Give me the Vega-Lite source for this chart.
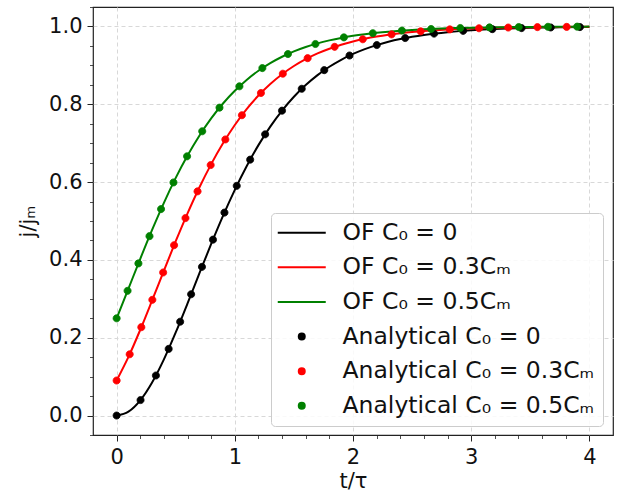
{
  "$schema": "https://vega.github.io/schema/vega-lite/v6.json",
  "width": 520,
  "height": 428,
  "autosize": {"type": "none"},
  "padding": {"left": 93, "top": 7, "right": 6, "bottom": 63},
  "background": "white",
  "config": {
    "font": "DejaVu Sans",
    "view": {"stroke": "#222222", "strokeWidth": 1.2},
    "axis": {"domain": false, "tickColor": "#222222", "labelColor": "#111111", "titleColor": "#111111", "titleFontWeight": "normal"}
  },
  "datasets": {
    "lines": [
      {"t":0,"j":0,"series":"OF C₀ = 0"},{"t":0.1,"j":0.0099,"series":"OF C₀ = 0"},{"t":0.2,"j":0.039,"series":"OF C₀ = 0"},{"t":0.3,"j":0.0849,"series":"OF C₀ = 0"},{"t":0.4,"j":0.1444,"series":"OF C₀ = 0"},{"t":0.5,"j":0.2136,"series":"OF C₀ = 0"},{"t":0.6,"j":0.2884,"series":"OF C₀ = 0"},{"t":0.7,"j":0.3653,"series":"OF C₀ = 0"},{"t":0.8,"j":0.441,"series":"OF C₀ = 0"},{"t":0.9,"j":0.5131,"series":"OF C₀ = 0"},{"t":1.0,"j":0.58,"series":"OF C₀ = 0"},{"t":1.1,"j":0.6408,"series":"OF C₀ = 0"},{"t":1.2,"j":0.695,"series":"OF C₀ = 0"},{"t":1.3,"j":0.7426,"series":"OF C₀ = 0"},{"t":1.4,"j":0.7838,"series":"OF C₀ = 0"},{"t":1.5,"j":0.8193,"series":"OF C₀ = 0"},{"t":1.6,"j":0.8495,"series":"OF C₀ = 0"},{"t":1.7,"j":0.875,"series":"OF C₀ = 0"},{"t":1.8,"j":0.8965,"series":"OF C₀ = 0"},{"t":1.9,"j":0.9144,"series":"OF C₀ = 0"},{"t":2.0,"j":0.9294,"series":"OF C₀ = 0"},{"t":2.1,"j":0.9418,"series":"OF C₀ = 0"},{"t":2.2,"j":0.9521,"series":"OF C₀ = 0"},{"t":2.3,"j":0.9606,"series":"OF C₀ = 0"},{"t":2.4,"j":0.9676,"series":"OF C₀ = 0"},{"t":2.5,"j":0.9734,"series":"OF C₀ = 0"},{"t":2.6,"j":0.9782,"series":"OF C₀ = 0"},{"t":2.7,"j":0.9821,"series":"OF C₀ = 0"},{"t":2.8,"j":0.9853,"series":"OF C₀ = 0"},{"t":2.9,"j":0.988,"series":"OF C₀ = 0"},{"t":3.0,"j":0.9901,"series":"OF C₀ = 0"},{"t":3.1,"j":0.9919,"series":"OF C₀ = 0"},{"t":3.2,"j":0.9934,"series":"OF C₀ = 0"},{"t":3.3,"j":0.9946,"series":"OF C₀ = 0"},{"t":3.4,"j":0.9956,"series":"OF C₀ = 0"},{"t":3.5,"j":0.9964,"series":"OF C₀ = 0"},{"t":3.6,"j":0.997,"series":"OF C₀ = 0"},{"t":3.7,"j":0.9976,"series":"OF C₀ = 0"},{"t":3.8,"j":0.998,"series":"OF C₀ = 0"},{"t":3.9,"j":0.9984,"series":"OF C₀ = 0"},{"t":4.0,"j":0.9987,"series":"OF C₀ = 0"},
      {"t":0,"j":0.09,"series":"OF C₀ = 0.3Cₘ"},{"t":0.1,"j":0.1506,"series":"OF C₀ = 0.3Cₘ"},{"t":0.2,"j":0.2205,"series":"OF C₀ = 0.3Cₘ"},{"t":0.3,"j":0.2957,"series":"OF C₀ = 0.3Cₘ"},{"t":0.4,"j":0.3725,"series":"OF C₀ = 0.3Cₘ"},{"t":0.5,"j":0.448,"series":"OF C₀ = 0.3Cₘ"},{"t":0.6,"j":0.5197,"series":"OF C₀ = 0.3Cₘ"},{"t":0.7,"j":0.5861,"series":"OF C₀ = 0.3Cₘ"},{"t":0.8,"j":0.6462,"series":"OF C₀ = 0.3Cₘ"},{"t":0.9,"j":0.6998,"series":"OF C₀ = 0.3Cₘ"},{"t":1.0,"j":0.7468,"series":"OF C₀ = 0.3Cₘ"},{"t":1.1,"j":0.7875,"series":"OF C₀ = 0.3Cₘ"},{"t":1.2,"j":0.8224,"series":"OF C₀ = 0.3Cₘ"},{"t":1.3,"j":0.8521,"series":"OF C₀ = 0.3Cₘ"},{"t":1.4,"j":0.8772,"series":"OF C₀ = 0.3Cₘ"},{"t":1.5,"j":0.8983,"series":"OF C₀ = 0.3Cₘ"},{"t":1.6,"j":0.9159,"series":"OF C₀ = 0.3Cₘ"},{"t":1.7,"j":0.9307,"series":"OF C₀ = 0.3Cₘ"},{"t":1.8,"j":0.9428,"series":"OF C₀ = 0.3Cₘ"},{"t":1.9,"j":0.953,"series":"OF C₀ = 0.3Cₘ"},{"t":2.0,"j":0.9613,"series":"OF C₀ = 0.3Cₘ"},{"t":2.1,"j":0.9682,"series":"OF C₀ = 0.3Cₘ"},{"t":2.2,"j":0.9739,"series":"OF C₀ = 0.3Cₘ"},{"t":2.3,"j":0.9786,"series":"OF C₀ = 0.3Cₘ"},{"t":2.4,"j":0.9824,"series":"OF C₀ = 0.3Cₘ"},{"t":2.5,"j":0.9856,"series":"OF C₀ = 0.3Cₘ"},{"t":2.6,"j":0.9882,"series":"OF C₀ = 0.3Cₘ"},{"t":2.7,"j":0.9903,"series":"OF C₀ = 0.3Cₘ"},{"t":2.8,"j":0.9921,"series":"OF C₀ = 0.3Cₘ"},{"t":2.9,"j":0.9935,"series":"OF C₀ = 0.3Cₘ"},{"t":3.0,"j":0.9947,"series":"OF C₀ = 0.3Cₘ"},{"t":3.1,"j":0.9956,"series":"OF C₀ = 0.3Cₘ"},{"t":3.2,"j":0.9964,"series":"OF C₀ = 0.3Cₘ"},{"t":3.3,"j":0.9971,"series":"OF C₀ = 0.3Cₘ"},{"t":3.4,"j":0.9976,"series":"OF C₀ = 0.3Cₘ"},{"t":3.5,"j":0.998,"series":"OF C₀ = 0.3Cₘ"},{"t":3.6,"j":0.9984,"series":"OF C₀ = 0.3Cₘ"},{"t":3.7,"j":0.9987,"series":"OF C₀ = 0.3Cₘ"},{"t":3.8,"j":0.9989,"series":"OF C₀ = 0.3Cₘ"},{"t":3.9,"j":0.9991,"series":"OF C₀ = 0.3Cₘ"},{"t":4.0,"j":0.9993,"series":"OF C₀ = 0.3Cₘ"},
      {"t":0,"j":0.25,"series":"OF C₀ = 0.5Cₘ"},{"t":0.1,"j":0.3263,"series":"OF C₀ = 0.5Cₘ"},{"t":0.2,"j":0.4029,"series":"OF C₀ = 0.5Cₘ"},{"t":0.3,"j":0.4771,"series":"OF C₀ = 0.5Cₘ"},{"t":0.4,"j":0.5468,"series":"OF C₀ = 0.5Cₘ"},{"t":0.5,"j":0.6108,"series":"OF C₀ = 0.5Cₘ"},{"t":0.6,"j":0.6683,"series":"OF C₀ = 0.5Cₘ"},{"t":0.7,"j":0.7193,"series":"OF C₀ = 0.5Cₘ"},{"t":0.8,"j":0.7637,"series":"OF C₀ = 0.5Cₘ"},{"t":0.9,"j":0.802,"series":"OF C₀ = 0.5Cₘ"},{"t":1.0,"j":0.8348,"series":"OF C₀ = 0.5Cₘ"},{"t":1.1,"j":0.8626,"series":"OF C₀ = 0.5Cₘ"},{"t":1.2,"j":0.8861,"series":"OF C₀ = 0.5Cₘ"},{"t":1.3,"j":0.9057,"series":"OF C₀ = 0.5Cₘ"},{"t":1.4,"j":0.9221,"series":"OF C₀ = 0.5Cₘ"},{"t":1.5,"j":0.9358,"series":"OF C₀ = 0.5Cₘ"},{"t":1.6,"j":0.9471,"series":"OF C₀ = 0.5Cₘ"},{"t":1.7,"j":0.9565,"series":"OF C₀ = 0.5Cₘ"},{"t":1.8,"j":0.9642,"series":"OF C₀ = 0.5Cₘ"},{"t":1.9,"j":0.9706,"series":"OF C₀ = 0.5Cₘ"},{"t":2.0,"j":0.9759,"series":"OF C₀ = 0.5Cₘ"},{"t":2.1,"j":0.9802,"series":"OF C₀ = 0.5Cₘ"},{"t":2.2,"j":0.9838,"series":"OF C₀ = 0.5Cₘ"},{"t":2.3,"j":0.9867,"series":"OF C₀ = 0.5Cₘ"},{"t":2.4,"j":0.9891,"series":"OF C₀ = 0.5Cₘ"},{"t":2.5,"j":0.9911,"series":"OF C₀ = 0.5Cₘ"},{"t":2.6,"j":0.9927,"series":"OF C₀ = 0.5Cₘ"},{"t":2.7,"j":0.994,"series":"OF C₀ = 0.5Cₘ"},{"t":2.8,"j":0.9951,"series":"OF C₀ = 0.5Cₘ"},{"t":2.9,"j":0.996,"series":"OF C₀ = 0.5Cₘ"},{"t":3.0,"j":0.9967,"series":"OF C₀ = 0.5Cₘ"},{"t":3.1,"j":0.9973,"series":"OF C₀ = 0.5Cₘ"},{"t":3.2,"j":0.9978,"series":"OF C₀ = 0.5Cₘ"},{"t":3.3,"j":0.9982,"series":"OF C₀ = 0.5Cₘ"},{"t":3.4,"j":0.9985,"series":"OF C₀ = 0.5Cₘ"},{"t":3.5,"j":0.9988,"series":"OF C₀ = 0.5Cₘ"},{"t":3.6,"j":0.999,"series":"OF C₀ = 0.5Cₘ"},{"t":3.7,"j":0.9992,"series":"OF C₀ = 0.5Cₘ"},{"t":3.8,"j":0.9993,"series":"OF C₀ = 0.5Cₘ"},{"t":3.9,"j":0.9994,"series":"OF C₀ = 0.5Cₘ"},{"t":4.0,"j":0.9996,"series":"OF C₀ = 0.5Cₘ"}
    ],
    "points": [
      {"t":0,"j":0,"series":"Analytical C₀ = 0"},{"t":0.2023,"j":0.0398,"series":"Analytical C₀ = 0"},{"t":0.3325,"j":0.1029,"series":"Analytical C₀ = 0"},{"t":0.4402,"j":0.1713,"series":"Analytical C₀ = 0"},{"t":0.5375,"j":0.2412,"series":"Analytical C₀ = 0"},{"t":0.6303,"j":0.3117,"series":"Analytical C₀ = 0"},{"t":0.722,"j":0.3821,"series":"Analytical C₀ = 0"},{"t":0.8151,"j":0.4521,"series":"Analytical C₀ = 0"},{"t":0.9123,"j":0.5216,"series":"Analytical C₀ = 0"},{"t":1.0163,"j":0.5904,"series":"Analytical C₀ = 0"},{"t":1.1299,"j":0.6577,"series":"Analytical C₀ = 0"},{"t":1.2566,"j":0.7227,"series":"Analytical C₀ = 0"},{"t":1.3993,"j":0.7836,"series":"Analytical C₀ = 0"},{"t":1.5662,"j":0.8398,"series":"Analytical C₀ = 0"},{"t":1.7569,"j":0.8877,"series":"Analytical C₀ = 0"},{"t":1.9707,"j":0.9253,"series":"Analytical C₀ = 0"},{"t":2.2012,"j":0.9522,"series":"Analytical C₀ = 0"},{"t":2.4416,"j":0.9702,"series":"Analytical C₀ = 0"},{"t":2.6859,"j":0.9816,"series":"Analytical C₀ = 0"},{"t":2.932,"j":0.9887,"series":"Analytical C₀ = 0"},{"t":3.1789,"j":0.9931,"series":"Analytical C₀ = 0"},{"t":3.426,"j":0.9958,"series":"Analytical C₀ = 0"},{"t":3.6731,"j":0.9974,"series":"Analytical C₀ = 0"},{"t":3.9203,"j":0.9984,"series":"Analytical C₀ = 0"},
      {"t":0,"j":0.09,"series":"Analytical C₀ = 0.3Cₘ"},{"t":0.1104,"j":0.1575,"series":"Analytical C₀ = 0.3Cₘ"},{"t":0.209,"j":0.2271,"series":"Analytical C₀ = 0.3Cₘ"},{"t":0.3022,"j":0.2974,"series":"Analytical C₀ = 0.3Cₘ"},{"t":0.3936,"j":0.3677,"series":"Analytical C₀ = 0.3Cₘ"},{"t":0.4862,"j":0.4378,"series":"Analytical C₀ = 0.3Cₘ"},{"t":0.5825,"j":0.5075,"series":"Analytical C₀ = 0.3Cₘ"},{"t":0.6846,"j":0.5762,"series":"Analytical C₀ = 0.3Cₘ"},{"t":0.7957,"j":0.6438,"series":"Analytical C₀ = 0.3Cₘ"},{"t":0.9199,"j":0.7096,"series":"Analytical C₀ = 0.3Cₘ"},{"t":1.0599,"j":0.7719,"series":"Analytical C₀ = 0.3Cₘ"},{"t":1.2209,"j":0.829,"series":"Analytical C₀ = 0.3Cₘ"},{"t":1.4062,"j":0.8786,"series":"Analytical C₀ = 0.3Cₘ"},{"t":1.616,"j":0.9185,"series":"Analytical C₀ = 0.3Cₘ"},{"t":1.8445,"j":0.9476,"series":"Analytical C₀ = 0.3Cₘ"},{"t":2.0826,"j":0.9671,"series":"Analytical C₀ = 0.3Cₘ"},{"t":2.3265,"j":0.9797,"series":"Analytical C₀ = 0.3Cₘ"},{"t":2.5724,"j":0.9875,"series":"Analytical C₀ = 0.3Cₘ"},{"t":2.8192,"j":0.9924,"series":"Analytical C₀ = 0.3Cₘ"},{"t":3.0662,"j":0.9953,"series":"Analytical C₀ = 0.3Cₘ"},{"t":3.3133,"j":0.9972,"series":"Analytical C₀ = 0.3Cₘ"},{"t":3.5606,"j":0.9983,"series":"Analytical C₀ = 0.3Cₘ"},{"t":3.8078,"j":0.9989,"series":"Analytical C₀ = 0.3Cₘ"},
      {"t":0,"j":0.25,"series":"Analytical C₀ = 0.5Cₘ"},{"t":0.0925,"j":0.3205,"series":"Analytical C₀ = 0.5Cₘ"},{"t":0.1843,"j":0.391,"series":"Analytical C₀ = 0.5Cₘ"},{"t":0.278,"j":0.4611,"series":"Analytical C₀ = 0.5Cₘ"},{"t":0.376,"j":0.5306,"series":"Analytical C₀ = 0.5Cₘ"},{"t":0.481,"j":0.5991,"series":"Analytical C₀ = 0.5Cₘ"},{"t":0.596,"j":0.6662,"series":"Analytical C₀ = 0.5Cₘ"},{"t":0.7242,"j":0.7306,"series":"Analytical C₀ = 0.5Cₘ"},{"t":0.8704,"j":0.7913,"series":"Analytical C₀ = 0.5Cₘ"},{"t":1.0391,"j":0.8462,"series":"Analytical C₀ = 0.5Cₘ"},{"t":1.2332,"j":0.893,"series":"Analytical C₀ = 0.5Cₘ"},{"t":1.4494,"j":0.9291,"series":"Analytical C₀ = 0.5Cₘ"},{"t":1.6822,"j":0.9549,"series":"Analytical C₀ = 0.5Cₘ"},{"t":1.923,"j":0.9719,"series":"Analytical C₀ = 0.5Cₘ"},{"t":2.1676,"j":0.9827,"series":"Analytical C₀ = 0.5Cₘ"},{"t":2.4138,"j":0.9894,"series":"Analytical C₀ = 0.5Cₘ"},{"t":2.6608,"j":0.9935,"series":"Analytical C₀ = 0.5Cₘ"},{"t":2.9079,"j":0.996,"series":"Analytical C₀ = 0.5Cₘ"},{"t":3.1551,"j":0.9976,"series":"Analytical C₀ = 0.5Cₘ"},{"t":3.4023,"j":0.9985,"series":"Analytical C₀ = 0.5Cₘ"},{"t":3.6495,"j":0.9991,"series":"Analytical C₀ = 0.5Cₘ"},{"t":3.8968,"j":0.9995,"series":"Analytical C₀ = 0.5Cₘ"}
    ]
  },
  "layer": [
    {
      "data": {"name": "lines"},
      "transform": [{"filter": "datum.series === 'OF C₀ = 0'"}],
      "mark": {"type": "line", "strokeWidth": 2, "interpolate": "monotone", "color": "#000000"},
      "encoding": {
        "x": {"field": "t", "type": "quantitative", "scale": {"domain": [-0.2, 4.2], "nice": false, "zero": false},
          "axis": {"orient": "bottom", "values": [0, 1, 2, 3, 4], "format": "d", "title": "t/τ", "grid": true, "gridDash": [4, 3], "gridColor": "#d8d8d8", "tickSize": 6, "tickWidth": 1, "labelFontSize": 21, "labelPadding": 5, "titleFontSize": 21, "titlePadding": 3}},
        "y": {"field": "j", "type": "quantitative", "scale": {"domain": [-0.05, 1.05], "nice": false, "zero": false},
          "axis": {"orient": "left", "values": [0, 0.2, 0.4, 0.6, 0.8, 1.0], "format": ".1f", "title": "j/jₘ", "grid": true, "gridDash": [4, 3], "gridColor": "#d8d8d8", "tickSize": 6, "tickWidth": 1, "labelFontSize": 21, "labelPadding": 5, "titleFontSize": 21, "titlePadding": 10}}
      }
    },
    {
      "data": {"name": "lines"},
      "transform": [{"filter": "datum.series === 'OF C₀ = 0.3Cₘ'"}],
      "mark": {"type": "line", "strokeWidth": 2, "interpolate": "monotone", "color": "#ff0000"},
      "encoding": {
        "x": {"field": "t", "type": "quantitative", "axis": null},
        "y": {"field": "j", "type": "quantitative", "axis": null}
      }
    },
    {
      "data": {"name": "lines"},
      "transform": [{"filter": "datum.series === 'OF C₀ = 0.5Cₘ'"}],
      "mark": {"type": "line", "strokeWidth": 2, "interpolate": "monotone", "color": "#008000"},
      "encoding": {
        "x": {"field": "t", "type": "quantitative", "axis": null},
        "y": {"field": "j", "type": "quantitative", "axis": null}
      }
    },
    {
      "data": {"name": "points"},
      "mark": {"type": "point", "filled": true, "size": 90, "strokeWidth": 0.8, "opacity": 1},
      "encoding": {
        "x": {"field": "t", "type": "quantitative",
          "axis": {"orient": "bottom", "values": [0.2, 0.4, 0.6, 0.8, 1.2, 1.4, 1.6, 1.8, 2.2, 2.4, 2.6, 2.8, 3.2, 3.4, 3.6, 3.8], "labels": false, "grid": false, "title": null, "tickSize": 3.5, "tickWidth": 0.8}},
        "y": {"field": "j", "type": "quantitative",
          "axis": {"orient": "left", "values": [-0.05, 0.05, 0.1, 0.15, 0.25, 0.3, 0.35, 0.45, 0.5, 0.55, 0.65, 0.7, 0.75, 0.85, 0.9, 0.95, 1.05], "labels": false, "grid": false, "title": null, "tickSize": 3.5, "tickWidth": 0.8}},
        "color": {"field": "series", "type": "nominal",
          "scale": {"domain": ["OF C₀ = 0", "OF C₀ = 0.3Cₘ", "OF C₀ = 0.5Cₘ", "Analytical C₀ = 0", "Analytical C₀ = 0.3Cₘ", "Analytical C₀ = 0.5Cₘ"],
            "range": ["#000000", "#ff0000", "#008000", "#000000", "#ff0000", "#008000"]},
          "legend": {"title": null, "orient": "none", "legendX": 178, "legendY": 206, "labelFontSize": 23.5, "labelColor": "#111111", "labelLimit": 400, "symbolSize": 64, "symbolStrokeWidth": 2, "symbolOffset": 11, "labelOffset": 29, "rowPadding": 9.6, "padding": 8, "fillColor": "rgba(255,255,255,0.85)", "strokeColor": "#cccccc", "cornerRadius": 4}},
        "stroke": {"field": "series", "type": "nominal",
          "scale": {"domain": ["OF C₀ = 0", "OF C₀ = 0.3Cₘ", "OF C₀ = 0.5Cₘ", "Analytical C₀ = 0", "Analytical C₀ = 0.3Cₘ", "Analytical C₀ = 0.5Cₘ"],
            "range": ["#000000", "#ff0000", "#008000", "#000000", "#ff0000", "#008000"]}},
        "shape": {"field": "series", "type": "nominal",
          "scale": {"domain": ["OF C₀ = 0", "OF C₀ = 0.3Cₘ", "OF C₀ = 0.5Cₘ", "Analytical C₀ = 0", "Analytical C₀ = 0.3Cₘ", "Analytical C₀ = 0.5Cₘ"],
            "range": ["M-6,0H6", "M-6,0H6", "M-6,0H6", "M-0.75,0A0.75,0.75 0 1,0 0.75,0A0.75,0.75 0 1,0 -0.75,0Z", "M-0.75,0A0.75,0.75 0 1,0 0.75,0A0.75,0.75 0 1,0 -0.75,0Z", "M-0.75,0A0.75,0.75 0 1,0 0.75,0A0.75,0.75 0 1,0 -0.75,0Z"]}}
      }
    }
  ],
  "resolve": {"axis": {"x": "independent", "y": "independent"}}
}
